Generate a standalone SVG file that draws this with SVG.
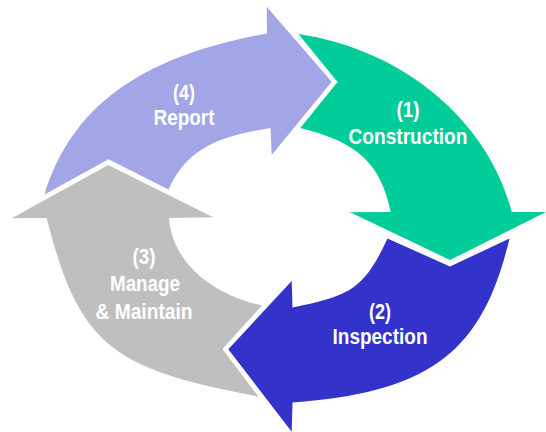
<svg xmlns="http://www.w3.org/2000/svg" width="546" height="432" viewBox="0 0 546 432">
  <style>
    .lbl { font-family: "Liberation Sans", Arial, sans-serif; font-weight: bold; font-size: 22px; fill: #ffffff; text-anchor: middle; }
    .report { fill: #a3a6e6; }
    .build { fill: #00cc99; }
    .inspect { fill: #3333cc; }
    .manage { fill: #bfbfbf; }
  </style>
  <rect width="546" height="432" fill="#ffffff"/>

  <!-- (4) Report: upper-left segment, head pointing right -->
  <g id="step-report">
    <path class="report" d="M44.5,194.5 C72.7,103.8 143.9,56 267,33.5 L266.7,6.7 L331.7,81.7 L271.7,155 L270.5,128 C216.2,137 187.6,148.7 168.5,189.5 L108.5,159.3 Z"/>
    <text class="lbl" x="184" y="100" textLength="22" lengthAdjust="spacingAndGlyphs">(4)</text>
    <text class="lbl" x="184" y="125" textLength="61" lengthAdjust="spacingAndGlyphs">Report</text>
  </g>

  <!-- (1) Construction: upper-right segment, head pointing down -->
  <g id="step-construction">
    <path class="build" d="M298.5,34 C407.3,50.3 489.8,124.7 511.7,212 L546,212 L450,260 L350,212.3 L390.7,212 C380.9,163 356.6,141.9 300.3,128 L337.5,82 Z"/>
    <text class="lbl" x="408" y="117" textLength="23" lengthAdjust="spacingAndGlyphs">(1)</text>
    <text class="lbl" x="408" y="143.5" textLength="119" lengthAdjust="spacingAndGlyphs">Construction</text>
  </g>

  <!-- (2) Inspection: lower-right segment, head pointing left -->
  <g id="step-inspection">
    <path class="inspect" d="M509.5,238.5 C482.9,350.4 432.1,392.4 292.5,402.5 L291.7,431.7 L228.3,349.3 L291.7,281 L292.5,307.5 C351.4,295.8 364.2,288.3 387.5,238.5 L450,266.5 Z"/>
    <text class="lbl" x="380" y="318.5" textLength="22" lengthAdjust="spacingAndGlyphs">(2)</text>
    <text class="lbl" x="380" y="343.5" textLength="95" lengthAdjust="spacingAndGlyphs">Inspection</text>
  </g>

  <!-- (3) Manage & Maintain: lower-left segment, head pointing up -->
  <g id="step-manage">
    <path class="manage" d="M258.3,396.5 C115.9,369.2 79.5,349 46.7,218 L11.7,218.3 L108.3,165 L213,217.3 L169,218 C172.1,262.9 213.1,295 262,305.5 L222.5,349 Z"/>
    <text class="lbl" x="144" y="264" textLength="23" lengthAdjust="spacingAndGlyphs">(3)</text>
    <text class="lbl" x="145" y="290.5" textLength="70" lengthAdjust="spacingAndGlyphs">Manage</text>
    <text class="lbl" x="144" y="319" textLength="97" lengthAdjust="spacingAndGlyphs">&amp; Maintain</text>
  </g>

  <!-- the four segments butt directly against one another; no separate connectors -->
  <g id="connectors"/>
</svg>
